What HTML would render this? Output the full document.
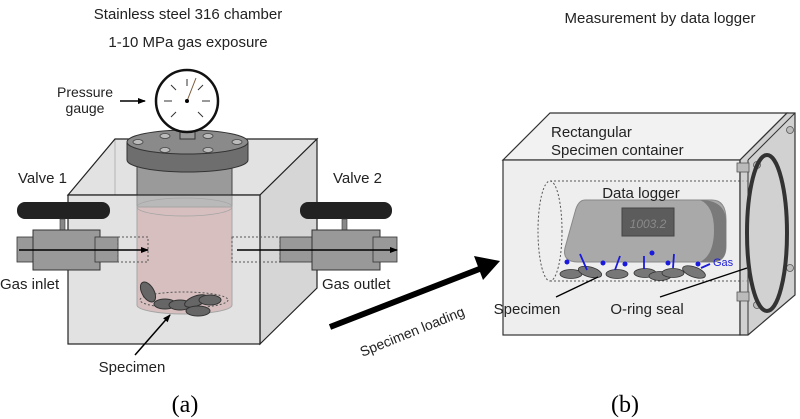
<!DOCTYPE html>
<html><head><meta charset="utf-8"><style>
html,body{margin:0;padding:0;background:#fff;}
svg{display:block;font-family:"Liberation Sans",sans-serif;}
</style></head><body>
<svg width="800" height="419" viewBox="0 0 800 419" xmlns="http://www.w3.org/2000/svg">
<defs>
<marker id="ah" markerWidth="8" markerHeight="8" refX="7" refY="4" orient="auto" markerUnits="userSpaceOnUse"><path d="M0,1 L8,4 L0,7 Z" fill="#000"/></marker>
</defs>
<g font-size="15" fill="#222">
<text x="188" y="19" text-anchor="middle">Stainless steel 316 chamber</text>
<text x="188" y="47" text-anchor="middle">1-10 MPa gas exposure</text>
<text x="660" y="23" text-anchor="middle">Measurement by data logger</text>
</g>

<!-- LEFT CHAMBER -->
<polygon points="68,195 115,139 317,139 260,195" fill="#e2e2e2" stroke="#222" stroke-width="1.2"/>
<polygon points="260,195 317,139 317,288 260,344" fill="#d6d6d6" stroke="#222" stroke-width="1.2"/>
<rect x="137" y="165" width="95" height="42" fill="#9a9a9a" stroke="#444"/>
<path d="M137,207 L137,305 A47.5,9 0 0 0 232,305 L232,207 Z" fill="#e3a9a9" stroke="#666"/>
<ellipse cx="184.5" cy="207" rx="47.5" ry="9" fill="none" stroke="#666" stroke-width="0.8"/>
<rect x="68" y="195" width="192" height="149" fill="#cfcfcf" fill-opacity="0.6" stroke="#222" stroke-width="1.2"/>
<line x1="115" y1="139" x2="115" y2="195" stroke="#222" stroke-width="0.6" opacity="0.4"/>
<ellipse cx="184" cy="300" rx="44" ry="8" fill="none" stroke="#555" stroke-dasharray="2,2"/>
<g fill="#666" stroke="#333" stroke-width="1">
<ellipse cx="148" cy="292" rx="6" ry="11" transform="rotate(-30 148 292)"/>
<ellipse cx="165" cy="304" rx="11" ry="5"/>
<ellipse cx="180" cy="305" rx="11" ry="5"/>
<ellipse cx="196" cy="301" rx="12" ry="5" transform="rotate(-20 196 301)"/>
<ellipse cx="210" cy="300" rx="11" ry="5"/>
<ellipse cx="198" cy="311" rx="12" ry="5"/>
</g>
<path d="M127,142 L127,160 A60.5,12 0 0 0 248,160 L248,142 Z" fill="#6e6e6e" stroke="#333"/>
<ellipse cx="187.5" cy="142" rx="60.5" ry="12" fill="#8a8a8a" stroke="#333"/>
<g fill="#bbb" stroke="#444" stroke-width="0.8">
<ellipse cx="138" cy="142" rx="5" ry="2.5"/><ellipse cx="165" cy="136" rx="5" ry="2.5"/>
<ellipse cx="208" cy="136" rx="5" ry="2.5"/><ellipse cx="237" cy="142" rx="5" ry="2.5"/>
<ellipse cx="165" cy="150" rx="5" ry="2.5"/><ellipse cx="208" cy="150" rx="5" ry="2.5"/>
</g>
<rect x="180" y="126" width="15" height="13" fill="#999" stroke="#333"/>
<circle cx="187" cy="101" r="31" fill="#fff" stroke="#111" stroke-width="2.5"/>
<g stroke="#333" stroke-width="1">
<line x1="172" y1="101" x2="164" y2="101"/><line x1="202" y1="101" x2="210" y2="101"/>
<line x1="187" y1="86" x2="187" y2="79"/>
<line x1="176" y1="90" x2="171" y2="85"/><line x1="198" y1="90" x2="203" y2="85"/>
<line x1="176" y1="112" x2="171" y2="117"/><line x1="198" y1="112" x2="203" y2="117"/>
<line x1="187" y1="101" x2="196" y2="78" stroke="#7a5a3a"/>
</g>
<circle cx="187" cy="101" r="2" fill="#000"/>
<text x="85" y="97" font-size="14" text-anchor="middle" fill="#222">Pressure</text>
<text x="85" y="113" font-size="14" text-anchor="middle" fill="#222">gauge</text>
<line x1="120" y1="101" x2="145" y2="101" stroke="#000" stroke-width="1.5" marker-end="url(#ah)"/>

<rect x="17" y="202" width="93" height="17" rx="8" fill="#222"/>
<rect x="60" y="219" width="5" height="12" fill="#888" stroke="#333" stroke-width="0.6"/>
<rect x="17" y="237" width="18" height="25" fill="#999" stroke="#333" stroke-width="0.8"/>
<rect x="33" y="230" width="67" height="40" fill="#999" stroke="#333"/>
<rect x="95" y="237" width="23" height="25" fill="#999" stroke="#333" stroke-width="0.8"/>
<rect x="118" y="237" width="30" height="25" fill="none" stroke="#555" stroke-dasharray="2,2"/>
<line x1="19" y1="250" x2="148" y2="250" stroke="#000" stroke-width="1.5" marker-end="url(#ah)"/>
<text x="18" y="183" font-size="15" fill="#222">Valve 1</text>
<text x="0" y="289" font-size="15" fill="#222">Gas inlet</text>
<rect x="300" y="202" width="92" height="17" rx="8" fill="#222"/>
<rect x="342" y="219" width="5" height="12" fill="#888" stroke="#333" stroke-width="0.6"/>
<rect x="232" y="237" width="48" height="25" fill="none" stroke="#555" stroke-dasharray="2,2"/>
<rect x="280" y="237" width="34" height="25" fill="#999" stroke="#333" stroke-width="0.8"/>
<rect x="312" y="230" width="68" height="40" fill="#999" stroke="#333"/>
<rect x="373" y="237" width="24" height="25" fill="#999" stroke="#333" stroke-width="0.8"/>
<line x1="237" y1="250" x2="397" y2="250" stroke="#000" stroke-width="1.5" marker-end="url(#ah)"/>
<text x="333" y="183" font-size="15" fill="#222">Valve 2</text>
<text x="322" y="289" font-size="15" fill="#222">Gas outlet</text>
<line x1="135" y1="355" x2="170" y2="315" stroke="#000" stroke-width="1.5" marker-end="url(#ah)"/>
<text x="132" y="372" font-size="15" text-anchor="middle" fill="#222">Specimen</text>

<line x1="330" y1="327" x2="482" y2="268" stroke="#000" stroke-width="6"/>
<polygon points="500,261 474,256 483,280" fill="#000"/>
<text x="414" y="336" font-size="14" fill="#222" transform="rotate(-22 414 336)" text-anchor="middle">Specimen loading</text>

<!-- RIGHT CONTAINER -->
<polygon points="503,160 550,113 787,113 740,160" fill="#f2f2f2" stroke="#333" stroke-width="1.2"/>
<rect x="503" y="160" width="237" height="175" fill="#eeeeee" stroke="#333" stroke-width="1.2"/>
<ellipse cx="550" cy="231" rx="12" ry="50" fill="none" stroke="#555" stroke-dasharray="2,2"/>
<line x1="550" y1="181" x2="748" y2="181" stroke="#555" stroke-dasharray="2,2"/>
<line x1="550" y1="281" x2="748" y2="281" stroke="#555" stroke-dasharray="2,2"/>
<path d="M585,200 L712,200 Q726,200 726,220 L726,246 Q726,262 712,262 L578,262 Q562,262 565,248 L575,212 Q578,200 585,200 Z" fill="#a9a9a9" stroke="#888"/>
<path d="M700,200 Q726,200 726,222 L726,246 Q726,262 712,262 L700,262 Q714,255 714,230 Q714,206 700,200Z" fill="#7a7a7a"/>
<rect x="622" y="208" width="52" height="28" fill="#5c5c5c" stroke="#444"/>
<text x="648" y="228" font-size="12" fill="#8a8a8a" text-anchor="middle" font-style="italic">1003.2</text>
<text x="641" y="198" font-size="15" fill="#222" text-anchor="middle">Data logger</text>
<g fill="#777" stroke="#333" stroke-width="0.8">
<ellipse cx="571" cy="274" rx="11" ry="4.5"/><ellipse cx="590" cy="272" rx="12" ry="5" transform="rotate(15 590 272)"/>
<ellipse cx="617" cy="274" rx="11" ry="4.5"/><ellipse cx="645" cy="273" rx="11" ry="4.5"/>
<ellipse cx="660" cy="276" rx="11" ry="4.5"/><ellipse cx="673" cy="273" rx="11" ry="4.5"/>
<ellipse cx="694" cy="272" rx="12" ry="5" transform="rotate(20 694 272)"/>
</g>
<g fill="#1a1adc">
<circle cx="567" cy="262" r="2.5"/><circle cx="603" cy="263" r="2.5"/><circle cx="625" cy="264" r="2.5"/>
<circle cx="652" cy="253" r="2.5"/><circle cx="668" cy="263" r="2.5"/><circle cx="698" cy="264" r="2.5"/>
</g>
<g stroke="#1a1adc" stroke-width="1.8">
<line x1="587" y1="270" x2="580" y2="254"/><line x1="615" y1="270" x2="620" y2="256"/>
<line x1="644" y1="269" x2="644" y2="256"/><line x1="673" y1="268" x2="674" y2="254"/>
<line x1="701" y1="268" x2="710" y2="264"/>
</g>
<text x="713" y="266" font-size="11" fill="#1a1adc">Gas</text>
<polygon points="740,160 787,113 795,113 795,295 748,335 740,335" fill="#c2c2c2" fill-opacity="0.75" stroke="#333" stroke-width="1.2"/>
<line x1="748" y1="160" x2="795" y2="113" stroke="#333"/>
<line x1="748" y1="160" x2="748" y2="335" stroke="#333"/>
<g fill="#bbb" stroke="#555" stroke-width="0.8">
<rect x="737" y="163" width="12" height="9"/><rect x="737" y="292" width="12" height="9"/>
<circle cx="757" cy="165" r="3.5"/><circle cx="790" cy="130" r="3.5"/><circle cx="790" cy="268" r="3.5"/><circle cx="757" cy="305" r="3.5"/>
</g>
<ellipse cx="767" cy="233" rx="20" ry="78" fill="none" stroke="#333" stroke-width="4"/>
<text x="551" y="137" font-size="15" fill="#222">Rectangular</text>
<text x="551" y="155" font-size="15" fill="#222">Specimen container</text>
<line x1="556" y1="297" x2="598" y2="277" stroke="#000" stroke-width="1.3"/>
<text x="527" y="314" font-size="15" fill="#222" text-anchor="middle">Specimen</text>
<line x1="660" y1="297" x2="747" y2="268" stroke="#000" stroke-width="1.3"/>
<text x="647" y="314" font-size="15" fill="#222" text-anchor="middle">O-ring seal</text>

<text x="185" y="412" font-size="24" font-family="Liberation Serif,serif" text-anchor="middle" fill="#000">(a)</text>
<text x="625" y="412" font-size="24" font-family="Liberation Serif,serif" text-anchor="middle" fill="#000">(b)</text>
</svg>
</body></html>
